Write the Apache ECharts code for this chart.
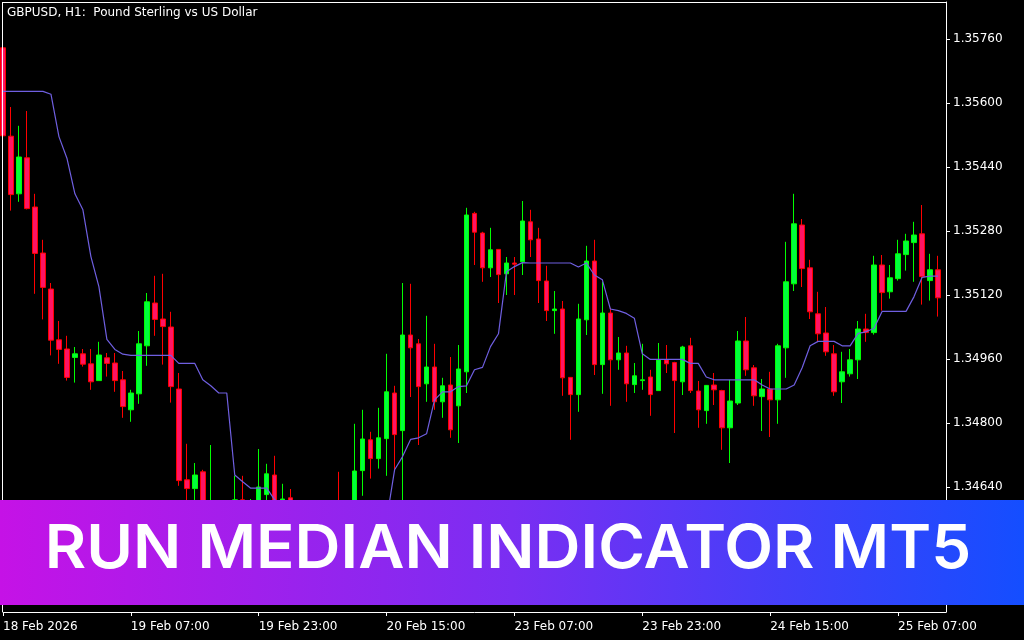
<!DOCTYPE html>
<html>
<head>
<meta charset="utf-8">
<script src="https://cdn.jsdelivr.net/npm/echarts@6/dist/echarts.min.js"></script>
<style>
html,body{margin:0;padding:0;background:#000;}
#chart{width:1024px;height:640px;}
</style>
</head>
<body>
<div id="chart"></div>
<script>
// ---- data (GBPUSD H1) ----
const openP = [
1.35738,1.35517,1.35373,1.35463,1.35340,1.35225,1.35135,1.35008,1.34985,1.34964,
1.34973,1.34948,1.34906,1.34963,1.34950,1.34908,1.34833,1.34873,1.34993,1.35100,
1.35060,1.35040,1.34885,1.34658,1.34636,1.34678,1.34445,1.34558,1.34495,1.34538,
1.34608,1.34545,1.34558,1.34621,1.34670,1.34533,1.34613,1.34533,1.34478,1.34508,
1.34453,1.34488,1.34443,1.34413,1.34495,1.34681,1.34758,1.34711,1.34761,1.34875,
1.34781,1.35020,1.34998,1.34898,1.34940,1.34853,1.34895,1.34843,1.34928,1.35324,
1.35275,1.35188,1.35234,1.35173,1.35200,1.35203,1.35303,1.35260,1.35155,1.35081,
1.35085,1.34914,1.34871,1.35058,1.35205,1.34946,1.35075,1.34958,1.34975,1.34896,
1.34906,1.34915,1.34881,1.34958,1.34951,1.34903,1.34993,1.34880,1.34831,1.34895,
1.34881,1.34788,1.34850,1.35005,1.34938,1.34866,1.34885,1.34858,1.34988,1.35148,
1.35295,1.35188,1.35073,1.35025,1.34973,1.34903,1.34923,1.34958,1.35035,1.35026,
1.35195,1.35128,1.35161,1.35221,1.35251,1.35273,1.35156,1.35183
];
const closeP = [
1.35518,1.35371,1.35465,1.35336,1.35224,1.35139,1.35007,1.34984,1.34914,1.34973,
1.34947,1.34903,1.34970,1.34949,1.34906,1.34841,1.34875,1.34998,1.35103,1.35059,
1.35041,1.34891,1.34656,1.34636,1.34670,1.34458,1.34558,1.34495,1.34545,1.34608,
1.34570,1.34595,1.34640,1.34673,1.34570,1.34610,1.34533,1.34478,1.34508,1.34453,
1.34488,1.34438,1.34413,1.34495,1.34680,1.34760,1.34711,1.34763,1.34878,1.34771,
1.35020,1.34988,1.34891,1.34940,1.34853,1.34893,1.34783,1.34935,1.35320,1.35277,
1.35188,1.35233,1.35171,1.35200,1.35197,1.35305,1.35258,1.35156,1.35081,1.35085,
1.34913,1.34871,1.35060,1.35205,1.34946,1.35075,1.34958,1.34975,1.34898,1.34918,
1.34908,1.34871,1.34958,1.34948,1.34906,1.34990,1.34881,1.34833,1.34894,1.34883,
1.34788,1.34855,1.35005,1.34933,1.34868,1.34885,1.34858,1.34993,1.35153,1.35298,
1.35186,1.35078,1.35023,1.34978,1.34878,1.34928,1.34958,1.35035,1.35026,1.35195,
1.35126,1.35163,1.35223,1.35255,1.35270,1.35166,1.35183,1.35113
];
const lowP = [
1.35508,1.35331,1.35353,1.35334,1.35123,1.35059,1.34969,1.34948,1.34906,1.34901,
1.34941,1.34883,1.34906,1.34916,1.34878,1.34813,1.34803,1.34848,1.34943,1.35018,
1.34946,1.34851,1.34643,1.34558,1.34570,1.34345,1.34420,1.34463,1.34478,1.34520,
1.34538,1.34528,1.34538,1.34593,1.34545,1.34515,1.34503,1.34453,1.34443,1.34413,
1.34393,1.34408,1.34378,1.34383,1.34478,1.34618,1.34661,1.34686,1.34668,1.34680,
1.34595,1.34865,1.34745,1.34853,1.34833,1.34813,1.34763,1.34750,1.34875,1.35195,
1.35153,1.35165,1.35100,1.35120,1.35120,1.35170,1.35215,1.35100,1.35055,1.35023,
1.34868,1.34758,1.34828,1.35020,1.34920,1.34873,1.34843,1.34933,1.34853,1.34875,
1.34883,1.34818,1.34881,1.34925,1.34775,1.34870,1.34875,1.34788,1.34798,1.34845,
1.34733,1.34700,1.34845,1.34918,1.34843,1.34780,1.34765,1.34798,1.34913,1.35130,
1.35140,1.35060,1.35004,1.34968,1.34868,1.34850,1.34916,1.34910,1.35003,1.35021,
1.35081,1.35111,1.35156,1.35181,1.35153,1.35096,1.35106,1.35066
];
const highP = [
1.35740,1.35590,1.35543,1.35580,1.35373,1.35258,1.35150,1.35055,1.35018,1.34990,
1.34985,1.34985,1.35003,1.34975,1.34975,1.34930,1.34883,1.35030,1.35125,1.35168,
1.35173,1.35078,1.34925,1.34748,1.34700,1.34683,1.34745,1.34583,1.34588,1.34668,
1.34668,1.34610,1.34735,1.34698,1.34718,1.34648,1.34635,1.34558,1.34520,1.34533,
1.34508,1.34578,1.34678,1.34570,1.34798,1.34833,1.34778,1.34838,1.34973,1.34893,
1.35150,1.35148,1.35010,1.35068,1.34998,1.34913,1.34965,1.34995,1.35338,1.35328,
1.35278,1.35288,1.35235,1.35215,1.35215,1.35355,1.35333,1.35288,1.35193,1.35130,
1.35105,1.34915,1.35098,1.35243,1.35258,1.35153,1.35088,1.35015,1.34993,1.34950,
1.34998,1.34933,1.35000,1.34995,1.34953,1.34993,1.35013,1.34905,1.34895,1.34925,
1.34883,1.34908,1.35030,1.35065,1.34945,1.34910,1.34928,1.34998,1.35253,1.35373,
1.35310,1.35208,1.35128,1.35090,1.34995,1.34978,1.34985,1.35055,1.35073,1.35218,
1.35220,1.35195,1.35258,1.35273,1.35303,1.35345,1.35223,1.35218
];
const runMedian = [
1.35629,1.35629,1.35629,1.35629,1.35629,1.35629,1.35622,1.35516,1.35462,1.35373,
1.35333,1.35216,1.35141,1.35009,1.34984,1.34972,1.34969,1.34969,1.34969,1.34969,
1.34969,1.34969,1.34949,1.34949,1.34949,1.34908,1.34893,1.34875,1.34875,1.34670,
1.34653,1.34637,1.34637,1.34637,1.34608,1.34595,1.34583,1.34558,1.34538,1.34520,
1.34508,1.34495,1.34495,1.34495,1.34503,1.34520,1.34530,1.34545,1.34558,1.34683,
1.34716,1.34759,1.34763,1.34773,1.34858,1.34878,1.34878,1.34891,1.34893,1.34933,
1.34939,1.34991,1.35023,1.35178,1.35191,1.35201,1.35200,1.35200,1.35200,1.35200,
1.35200,1.35200,1.35190,1.35200,1.35170,1.35158,1.35085,1.35081,1.35074,1.35062,
1.34973,1.34959,1.34959,1.34959,1.34959,1.34959,1.34949,1.34949,1.34915,1.34908,
1.34908,1.34908,1.34908,1.34908,1.34908,1.34895,1.34885,1.34885,1.34885,1.34895,
1.34938,1.34993,1.35004,1.35004,1.35004,1.34993,1.34993,1.35024,1.35028,1.35037,
1.35079,1.35079,1.35079,1.35079,1.35116,1.35164,1.35167,1.35167
];
const timeTickLabels = ['18 Feb 2026','19 Feb 07:00','19 Feb 23:00','20 Feb 15:00','23 Feb 07:00','23 Feb 23:00','24 Feb 15:00','25 Feb 07:00'];
const timeTickStep = 16;
const priceTicks = [1.34640,1.34800,1.34960,1.35120,1.35280,1.35440,1.35600,1.35760];
const chartTitle = 'GBPUSD, H1:  Pound Sterling vs US Dollar';
const bannerText = 'RUN MEDIAN INDICATOR MT5';

// hourly bar times (weekend skipped), one extra empty slot at the right edge
const categories = [];
(function(){
  const mon = ['Jan','Feb','Mar'];
  const start = Date.UTC(2026,1,18,15);
  const weekendStart = Date.UTC(2026,1,21,0);
  for (let k = 0; k <= openP.length; k++) {
    let t = start + k*3600e3;
    if (t >= weekendStart) t += 48*3600e3;
    const d = new Date(t);
    const hh = String(d.getUTCHours()).padStart(2,'0');
    categories.push(d.getUTCDate() + ' ' + mon[d.getUTCMonth()] + ' ' + hh + ':00');
  }
})();

const ohlc = openP.map((o,i) => [o, closeP[i], lowP[i], highP[i]]);

const chart = echarts.init(document.getElementById('chart'), null, {renderer:'canvas'});
const FONT = 'DejaVu Sans';
chart.setOption({
  backgroundColor: '#000000',
  animation: false,
  grid: {left: 2, right: 78, top: 2, bottom: 28, containLabel: false},
  xAxis: {
    type: 'category',
    data: categories,
    boundaryGap: false,
    axisLine: {show: true, lineStyle: {color: '#ffffff', width: 1}},
    axisTick: {show: true, length: 4, interval: (i) => i % timeTickStep === 0, lineStyle: {color: '#ffffff'}},
    axisLabel: {
      show: true,
      interval: (i) => i % timeTickStep === 0,
      formatter: (v, i) => timeTickLabels[i / timeTickStep] || '',
      color: '#ffffff', fontFamily: FONT, fontSize: 12, align: 'left', margin: 9
    },
    splitLine: {show: false}
  },
  yAxis: {
    type: 'value',
    position: 'right',
    min: 1.343275,
    max: 1.358525,
    axisLine: {show: true, lineStyle: {color: '#ffffff', width: 1}},
    axisTick: {show: true, length: 4, customValues: priceTicks, lineStyle: {color: '#ffffff'}},
    axisLabel: {
      show: true, customValues: priceTicks,
      formatter: (v) => Number(v).toFixed(5),
      color: '#ffffff', fontFamily: FONT, fontSize: 12, margin: 7
    },
    splitLine: {show: false}
  },
  series: [
    {
      type: 'candlestick',
      data: ohlc,
      barWidth: 5,
      clip: true,
      itemStyle: {
        color: '#00ff3c', color0: '#ff1464',
        borderColor: '#00ff00', borderColor0: '#ff0000', borderWidth: 1
      }
    },
    {
      type: 'line',
      data: runMedian,
      showSymbol: false,
      symbol: 'none',
      clip: true,
      silent: true,
      lineStyle: {color: '#6f5fe0', width: 1.2}
    }
  ],
  graphic: [
    {type: 'line', z: 50, silent: true, shape: {x1: 2.5, y1: 2, x2: 2.5, y2: 612}, style: {stroke: '#ffffff', lineWidth: 1}},
    {type: 'line', z: 50, silent: true, shape: {x1: 2, y1: 2.5, x2: 946, y2: 2.5}, style: {stroke: '#ffffff', lineWidth: 1}},
    {type: 'text', z: 50, silent: true, x: 7, y: 13, style: {text: chartTitle, fill: '#ffffff', font: '12px "DejaVu Sans"', textVerticalAlign: 'middle'}},
    {
      type: 'rect', z: 100, silent: true,
      shape: {x: 0, y: 500, width: 1024, height: 105},
      style: {fill: new echarts.graphic.LinearGradient(0, 0, 1, 0, [
        {offset: 0, color: '#c512e6'},
        {offset: 0.5, color: '#7a2ef2'},
        {offset: 1, color: '#144eff'}
      ])}
    },
    {
      type: 'text', z: 101, silent: true, x: 508, y: 550, scaleX: 1.06,
      style: {text: bannerText, fill: '#ffffff', font: '600 60px Inter', textAlign: 'center', textVerticalAlign: 'middle'}
    }
  ]
});
</script>
</body>
</html>
